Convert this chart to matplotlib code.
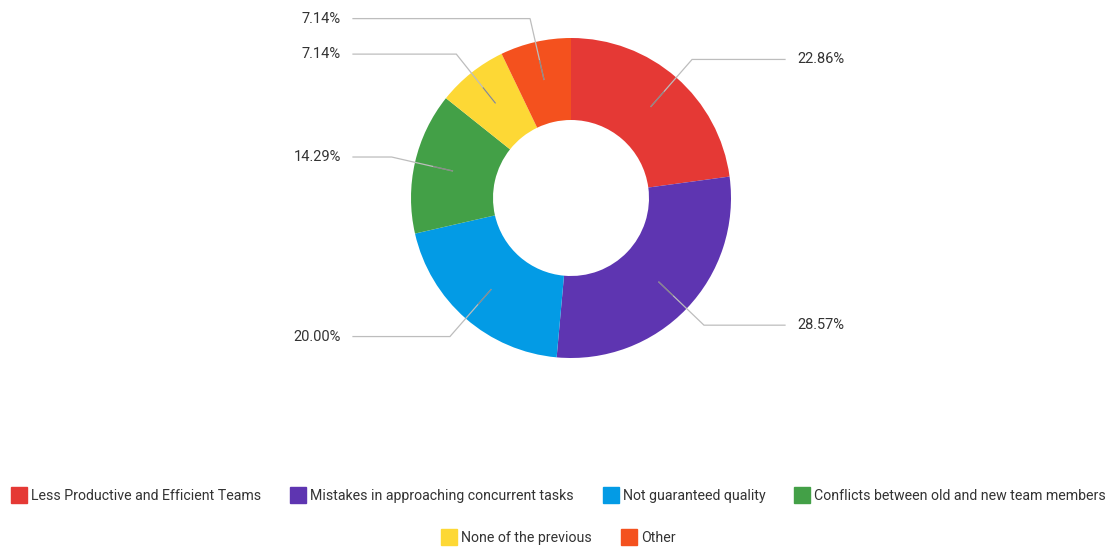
import numpy as np
import matplotlib
matplotlib.use("Agg")
import matplotlib.pyplot as plt
from matplotlib.lines import Line2D

# Survey answers, clockwise from 12 o'clock
categories = [
    "Less Productive and Efficient Teams",
    "Mistakes in approaching concurrent tasks",
    "Not guaranteed quality",
    "Conflicts between old and new team members",
    "None of the previous",
    "Other",
]
shares = [22.86, 28.57, 20.00, 14.29, 7.14, 7.14]
colors = ["#E53935", "#5E35B1", "#039BE5", "#43A047", "#FDD835", "#F4511E"]
legend_rows = [[0, 1, 2, 3], [4, 5]]

plt.rcParams["font.family"] = ["Roboto", "DejaVu Sans"]

W, H = 1118, 547
fig = plt.figure(figsize=(W / 100, H / 100), dpi=100)
ax = fig.add_axes([0, 0, 1, 1])

cx, cy, R = 571, H - 198, 160
wedges, _ = ax.pie(shares, colors=colors, startangle=90, counterclock=False,
                   radius=R, center=(cx, cy), frame=True,
                   wedgeprops=dict(width=82, linewidth=0))
ax.set_xlim(0, W)
ax.set_ylim(0, H)
ax.set_aspect("equal")
ax.axis("off")

# leader lines: from inside the ring, out past the edge, then flat to the label
for w, val in zip(wedges, shares):
    ang = np.deg2rad((w.theta1 + w.theta2) / 2)
    x0, y0 = cx + 0.76 * R * np.cos(ang), cy + 0.76 * R * np.sin(ang)
    x1, y1 = cx + 1.15 * R * np.cos(ang), cy + 1.15 * R * np.sin(ang)
    if np.cos(ang) >= 0:
        x2, tx, ha = 785, 797, "left"
    else:
        x2, tx, ha = 353, 341, "right"
    ax.plot([x0, x1, x2], [y0, y1, y1], color="#bdbdbd", lw=0.9,
            solid_joinstyle="miter")
    ax.plot([x0, x0 + 0.12 * R * np.cos(ang)], [y0, y0 + 0.12 * R * np.sin(ang)],
            color="#555555", lw=0.8, alpha=0.5)
    ax.text(tx, y1, f"{val:.2f}%", ha=ha, va="center", fontsize=10.5,
            color="#333333")

# legend, two centred rows
for row, ypx in zip(legend_rows, [496, 538]):
    handles = [Line2D([], [], marker="s", linestyle="none", markersize=12,
                      markerfacecolor=colors[i], markeredgecolor=colors[i])
               for i in row]
    fig.legend(handles, [categories[i] for i in row], loc="center",
               bbox_to_anchor=(0.5, 1 - ypx / H), ncol=len(row), frameon=False,
               fontsize=10.2, handlelength=1.0, handletextpad=0.35,
               columnspacing=2.1, labelcolor="#333333")

fig.savefig("out.png", dpi=100)
